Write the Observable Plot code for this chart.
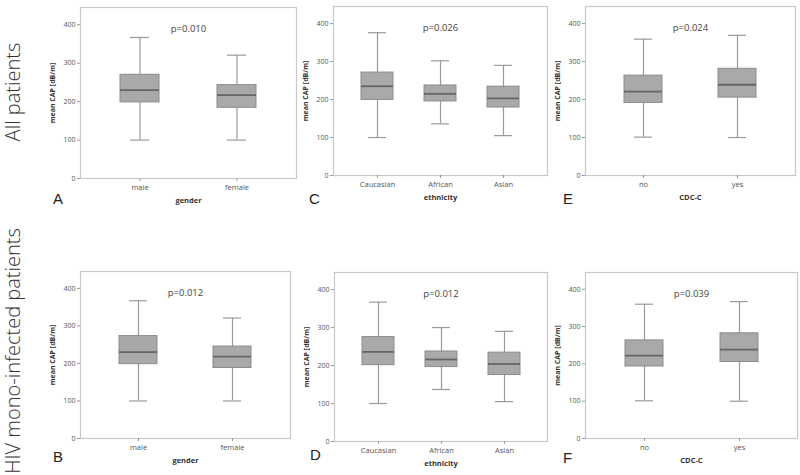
<!DOCTYPE html>
<html>
<head>
<meta charset="utf-8">
<script src="https://cdn.jsdelivr.net/npm/d3@7"></script>
<script src="https://cdn.jsdelivr.net/npm/@observablehq/plot@0.6"></script>
<style>
  html, body { margin: 0; padding: 0; background: #fff; }
  #root { position: relative; width: 800px; height: 475px; overflow: hidden; font-family: "Open Sans", "DejaVu Sans", sans-serif; }
  .panel { position: absolute; }
  .rowlabel { position: absolute; font-family: "Open Sans", sans-serif; font-size: 20px; color: #333; white-space: nowrap; transform: translate(-50%, -50%) rotate(-90deg); font-weight: 300; }
  .letter { position: absolute; font-family: "Liberation Sans", Arial, sans-serif; font-size: 15px; color: #222; }
  g[aria-label="x-axis label"] text, g[aria-label="y-axis label"] text { font-weight: bold; fill: #333; }
</style>
</head>
<body>
<div id="root"></div>
<script>
// ---- data ----
const genderCats = ["male", "female"];
const ethnicityCats = ["Caucasian", "African", "Asian"];
const cdcCats = ["no", "yes"];
const yTicks = [0, 100, 200, 300, 400];

// each row: [lower whisker, Q1, median, Q3, upper whisker]  (mean CAP, dB/m)
const allGender    = [[100, 198, 230, 270, 367], [100, 184, 217, 243, 321]];
const allEthnicity = [[100, 199, 235, 271, 376], [136, 195, 215, 237, 302], [105, 179, 203, 234, 290]];
const allCdc       = [[101, 191, 221, 263, 359], [100, 205, 239, 281, 369]];
const hivGender    = [[100, 198, 230, 273, 367], [100, 188, 218, 245, 321]];
const hivEthnicity = [[100, 201, 236, 275, 367], [137, 196, 216, 237, 300], [105, 175, 204, 234, 290]];
const hivCdc       = [[101, 193, 222, 263, 360], [100, 205, 238, 282, 367]];

const pValues = ["p=0.010", "p=0.026", "p=0.024", "p=0.012", "p=0.012", "p=0.039"];
const xLabels = ["gender", "ethnicity", "CDC-C"];
const yLabel = "mean CAP [dB/m]";
const rowLabels = ["All patients", "HIV mono-infected patients"];
const panelLetters = ["A", "C", "E", "B", "D", "F"];

// ---- layout ----
const root = document.getElementById("root");
const mL = 40, mR = 2, mT = 2, mB = 32;

function makePanel(cats, stats, pval, xlabel, fr, letter, letterPos) {
  const rows = cats.map((c, i) => ({cat: c, lo: stats[i][0], q1: stats[i][1], med: stats[i][2], q3: stats[i][3], hi: stats[i][4]}));
  const three = cats.length === 3;
  const w = fr.r - fr.l, h = fr.b - fr.t;
  const capInset = three ? 7 : 10;
  const svg = Plot.plot({
    width: w + mL + mR,
    height: h + mT + mB,
    marginLeft: mL, marginRight: mR, marginTop: mT, marginBottom: mB,
    style: {fontFamily: "'Open Sans', 'DejaVu Sans', sans-serif", fontSize: "7.5px", color: "#555", background: "transparent"},
    x: {domain: cats, paddingInner: three ? 0.5 : 0.6, paddingOuter: three ? 0.44 : 0.41},
    y: {domain: [0, 445]},
    marks: [
      Plot.frame({stroke: "#c8c8c8", strokeWidth: 1.2}),
      Plot.axisY({ticks: yTicks, tickSize: 3, tickPadding: 2, stroke: "#999", label: yLabel, labelAnchor: "center", labelOffset: 30, labelArrow: "none", fontSize: 7}),
      Plot.axisX({tickSize: 3, stroke: "#999", tickPadding: 3, label: xlabel, labelAnchor: "center", labelOffset: 24, labelArrow: "none", fontSize: 7.5}),
      Plot.ruleX(rows, {x: "cat", y1: "lo", y2: "hi", stroke: "#9a9a9a", strokeWidth: 1.2}),
      Plot.tickY(rows, {x: "cat", y: "lo", stroke: "#9a9a9a", strokeWidth: 1.2, insetLeft: capInset, insetRight: capInset}),
      Plot.tickY(rows, {x: "cat", y: "hi", stroke: "#9a9a9a", strokeWidth: 1.2, insetLeft: capInset, insetRight: capInset}),
      Plot.barY(rows, {x: "cat", y1: "q1", y2: "q3", fill: "#a9a9a9", stroke: "#8c8c8c", strokeWidth: 1}),
      Plot.tickY(rows, {x: "cat", y: "med", stroke: "#666", strokeWidth: 1.8}),
      Plot.text([pval], {text: d => d, frameAnchor: "top", dy: 18, fontSize: 9.5, fill: "#444"})
    ]
  });
  svg.classList.add("panel");
  svg.style.left = (fr.l - mL) + "px";
  svg.style.top = (fr.t - mT) + "px";
  root.appendChild(svg);

  const L = document.createElement("div");
  L.className = "letter";
  L.textContent = letter;
  L.style.left = letterPos[0] + "px";
  L.style.top = letterPos[1] + "px";
  root.appendChild(L);
}

const frames = [
  {l: 80, r: 296, t: 7, b: 178},
  {l: 333, r: 547, t: 6, b: 175},
  {l: 585, r: 795, t: 6, b: 175},
  {l: 80, r: 290, t: 271, b: 438},
  {l: 334, r: 547, t: 272, b: 441},
  {l: 585, r: 797, t: 272, b: 438}
];
const letterPositions = [[53, 190], [309, 190], [563, 190], [53, 448], [310, 446], [563, 449]];
const catsList = [genderCats, ethnicityCats, cdcCats];
const statsList = [allGender, allEthnicity, allCdc, hivGender, hivEthnicity, hivCdc];

for (let i = 0; i < 6; i++) {
  const col = i % 3;
  makePanel(catsList[col], statsList[i], pValues[i], xLabels[col], frames[i], panelLetters[i], letterPositions[i]);
}

const rowCenters = [[12, 92], [12, 351]];
rowLabels.forEach((t, i) => {
  const d = document.createElement("div");
  d.className = "rowlabel";
  d.textContent = t;
  d.style.left = rowCenters[i][0] + "px";
  d.style.top = rowCenters[i][1] + "px";
  root.appendChild(d);
});
</script>
</body>
</html>
